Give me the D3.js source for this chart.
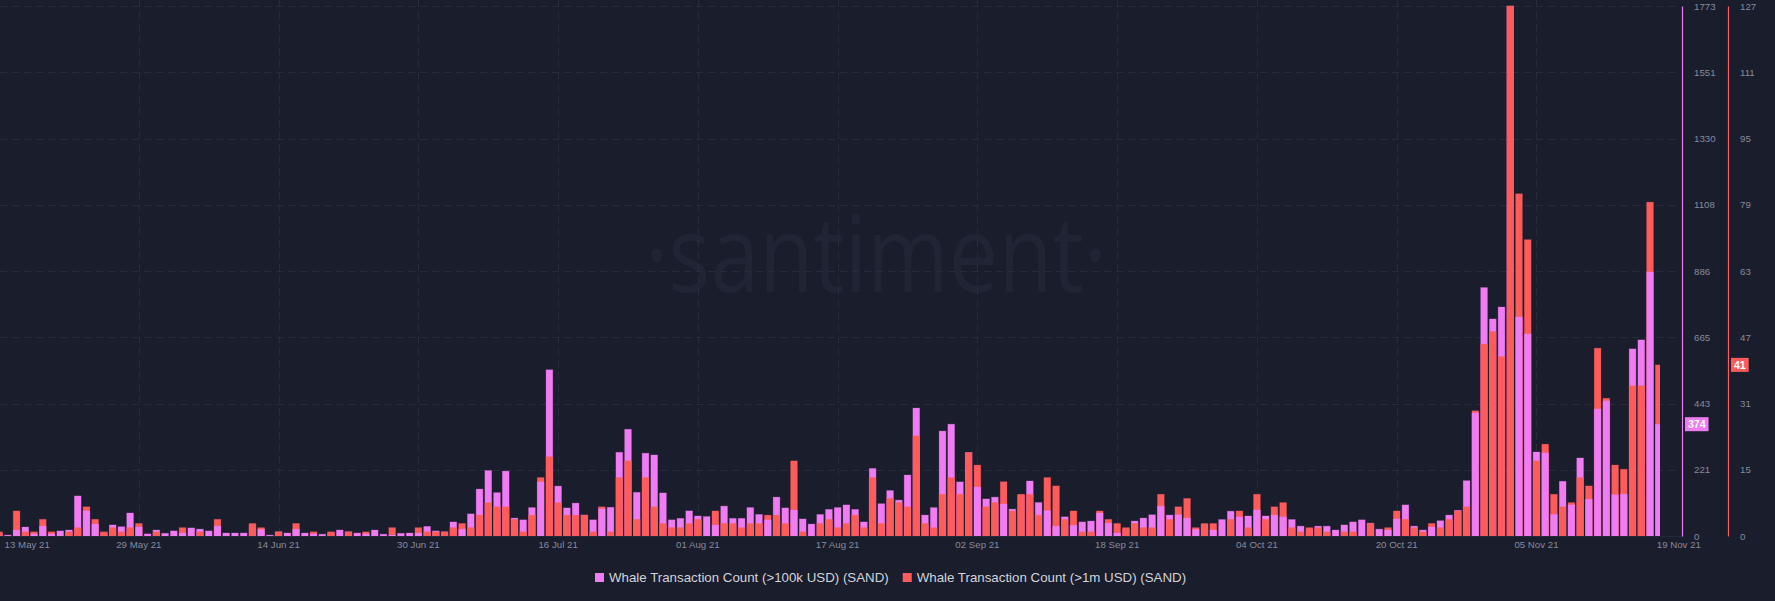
<!DOCTYPE html>
<html><head><meta charset="utf-8">
<script src="https://cdn.jsdelivr.net/npm/d3@7"></script>
<style>
html,body{margin:0;padding:0;background:#1a1d2b;}
svg{display:block;}
</style></head>
<body><svg id="c" width="1775" height="601"></svg>
<script>
// ---------- data ----------
const startDate = "2021-05-13";
const endDate = "2021-11-19";
const xTickDates = ["2021-05-13","2021-05-29","2021-06-14","2021-06-30","2021-07-16","2021-08-01","2021-08-17","2021-09-02","2021-09-18","2021-10-04","2021-10-20","2021-11-05","2021-11-19"];
const xTickLabels = ["13 May 21","29 May 21","14 Jun 21","30 Jun 21","16 Jul 21","01 Aug 21","17 Aug 21","02 Sep 21","18 Sep 21","04 Oct 21","20 Oct 21","05 Nov 21","19 Nov 21"];
const leftTickLabels = ["0","221","443","665","886","1108","1330","1551","1773"];
const rightTickLabels = ["0","15","31","47","63","79","95","111","127"];
const leftMax = 1773;
const rightMax = 127;
const seriesNames = ["Whale Transaction Count (>100k USD) (SAND)","Whale Transaction Count (>1m USD) (SAND)"];
// >100k USD (left axis), one value per day from 13 May 21
const pinkValues = [
 9,3,20,30,7,33,7,17,20,134, 84,40,10,37,31,77,30,7,20,9,
 17,10,27,23,17,33,10,10,10,37, 22,3,14,10,23,10,7,6,10,20,
 14,10,7,20,6,3,9,10,10,32, 17,14,47,23,74,157,219,145,217,60,
 54,95,181,556,167,94,110,70,54,91, 96,280,357,146,277,271,144,54,59,84,
 67,65,37,100,59,59,95,72,54,130, 94,87,57,40,72,89,95,104,89,47,
 226,108,152,120,204,428,70,95,351,374, 181,279,164,124,130,107,90,137,184,112,
 85,33,64,36,47,50,77,43,10,23, 50,60,71,100,70,71,60,22,37,20,
 55,83,64,67,87,67,70,64,55,33, 23,33,33,20,37,47,54,43,23,20,
 57,104,33,20,30,51,70,86,185,412, 831,726,766,1773,733,676,281,278,72,183,
 104,261,123,425,452,138,140,626,656,883, 374
];
// >1m USD (right axis)
const redValues = [
 1,0,6,1,1,4,1,0,1,2, 7,4,1,2,1,2,3,0,1,0,
 0,2,0,1,0,4,0,0,0,3, 2,0,1,0,3,0,1,0,1,0,
 1,0,1,0,0,2,0,0,2,1, 1,1,2,3,2,5,8,7,7,4,
 1,5,14,19,8,5,5,5,1,7, 1,14,18,4,14,7,3,2,2,3,
 4,0,6,3,3,2,3,3,5,5, 3,18,1,0,3,4,2,3,5,2,
 14,3,9,8,7,24,3,2,10,14, 10,20,17,7,8,13,6,10,10,5,
 14,12,4,6,1,1,6,4,3,2, 3,2,2,10,4,7,9,2,3,3,
 0,4,6,2,10,4,7,8,2,1, 2,2,1,0,1,1,0,3,0,2,
 6,4,2,1,3,2,4,6,7,30, 46,49,43,127,82,71,18,22,10,7,
 8,14,12,45,33,17,16,36,36,80, 41
];

// ---------- layout ----------
const W = 1775, H = 601;
const BG = "#1a1d2b";
const PINK = "#f07cf4";
const RED = "#ff5b5b";
const GRID = "#282b3b";
const TICK_TXT = "#868a9e";
const plotTop = 6, plotBottom = 536, plotRight = 1660, gridRight = 1676;
const leftAxisX = 1682, rightAxisX = 1728;

const fmt = d3.timeFormat("%Y-%m-%d");
const parse = d3.timeParse("%Y-%m-%d");
const days = d3.timeDay.range(parse(startDate), d3.timeDay.offset(parse(endDate), 1)).map(fmt);
const data = days.map((d, i) => ({date: d, pink: pinkValues[i], red: redValues[i]}));

const step = 8.735;
const x = d3.scaleBand().domain(days)
  .range([-0.9 - step / 2, -0.9 - step / 2 + step * days.length])
  .paddingInner(0.23).paddingOuter(0.115);
const yL = d3.scaleLinear().domain([0, leftMax]).range([plotBottom, plotTop]);
const yR = d3.scaleLinear().domain([0, rightMax]).range([plotBottom, plotTop]);

const svg = d3.select("#c");
svg.append("rect").attr("width", W).attr("height", H).attr("fill", BG);

// watermark
svg.append("text").attr("x", 876).attr("y", 292)
  .attr("text-anchor", "middle")
  .attr("font-family", "Open Sans, sans-serif").attr("font-size", 106)
  .attr("textLength", 462).attr("lengthAdjust", "spacingAndGlyphs")
  .attr("fill", "#212435").text("·santiment·");

// grid
const leftTicks = leftTickLabels.map((_, k) => leftMax * k / 8);
const rightTicks = rightTickLabels.map((_, k) => rightMax * k / 8);
const grid = svg.append("g");
grid.selectAll("line.h").data(leftTicks.slice(1)).join("line")
  .attr("x1", 0).attr("x2", gridRight)
  .attr("y1", d => Math.round(yL(d)) + 0.5).attr("y2", d => Math.round(yL(d)) + 0.5)
  .attr("stroke", GRID).attr("stroke-dasharray", "7,5");
grid.selectAll("line.v").data(xTickDates.slice(1, -1)).join("line")
  .attr("y1", 0).attr("y2", plotBottom)
  .attr("x1", d => Math.round(x(d) + x.bandwidth() / 2) + 0.5)
  .attr("x2", d => Math.round(x(d) + x.bandwidth() / 2) + 0.5)
  .attr("stroke", GRID).attr("stroke-dasharray", "7,5");

// bars
svg.append("clipPath").attr("id", "clip").append("rect")
  .attr("x", 0).attr("y", 0).attr("width", plotRight).attr("height", plotBottom);
const barsG = svg.append("g").attr("clip-path", "url(#clip)");
data.forEach(d => {
  const hp = plotBottom - yL(d.pink), hr = plotBottom - yR(d.red);
  const pinkBar = {v: d.pink, y: yL(d.pink), c: PINK};
  const redBar = {v: d.red, y: yR(d.red), c: RED};
  let order;
  if (Math.abs(hp - hr) < 1.5) order = [pinkBar, redBar];
  else order = hp > hr ? [pinkBar, redBar] : [redBar, pinkBar];
  order.forEach(b => {
    if (plotBottom - b.y <= 0) return;
    barsG.append("rect")
      .attr("x", x(d.date)).attr("width", x.bandwidth())
      .attr("y", b.y).attr("height", plotBottom - b.y)
      .attr("fill", b.c)
      .attr("stroke", b.c).attr("stroke-opacity", 0.35).attr("stroke-width", 0.8);
  });
});

// baseline
svg.append("line").attr("x1", 0).attr("x2", leftAxisX).attr("y1", plotBottom + 0.5).attr("y2", plotBottom + 0.5)
  .attr("stroke", "#252838");

// x axis
const xAxis = d3.axisBottom(x).tickValues(xTickDates)
  .tickFormat((d, i) => xTickLabels[i]).tickSize(0).tickPadding(5);
const gx = svg.append("g").attr("transform", `translate(0,${plotBottom})`).call(xAxis);
gx.select(".domain").remove();
gx.selectAll("text").attr("fill", TICK_TXT).attr("font-size", 9.7)
  .attr("font-family", "Liberation Sans, Arial, sans-serif");
gx.selectAll(".tick").filter((d, i) => i === 0).select("text")
  .attr("text-anchor", "start").attr("x", 5.5);
gx.selectAll(".tick").filter((d, i) => i === xTickDates.length - 1).select("text")
  .attr("text-anchor", "start").attr("x", -2);

// y axes
function styleAxis(g, color) {
  g.select(".domain").attr("stroke", color).attr("stroke-width", 1.2);
  g.selectAll(".tick line").remove();
  g.selectAll("text").attr("fill", TICK_TXT).attr("font-size", 9.7)
    .attr("font-family", "Liberation Sans, Arial, sans-serif");
}
const gL = svg.append("g").attr("transform", `translate(${leftAxisX},0)`)
  .call(d3.axisRight(yL).tickValues(leftTicks).tickFormat((d, i) => leftTickLabels[i]).tickSizeOuter(0).tickPadding(6));
styleAxis(gL, PINK);
const gR = svg.append("g").attr("transform", `translate(${rightAxisX},0)`)
  .call(d3.axisRight(yR).tickValues(rightTicks).tickFormat((d, i) => rightTickLabels[i]).tickSizeOuter(0).tickPadding(6));
styleAxis(gR, RED);

// last value badges
function badge(xPos, yPos, txt, color) {
  const g = svg.append("g");
  const t = g.append("text").attr("x", xPos + 3).attr("y", yPos).attr("dy", "0.35em")
    .attr("font-size", 10.5).attr("font-weight", "bold")
    .attr("font-family", "Liberation Sans, Arial, sans-serif")
    .attr("fill", "#ffffff").text(txt);
  const w = t.node().getComputedTextLength();
  g.insert("rect", "text").attr("x", xPos).attr("y", yPos - 7)
    .attr("width", w + 6).attr("height", 14).attr("fill", color);
}
const last = data[data.length - 1];
badge(leftAxisX + 3, yL(last.pink), String(last.pink), PINK);
badge(rightAxisX + 3, yR(last.red), String(last.red), RED);

// legend
const legend = svg.append("g").attr("font-family", "Liberation Sans, Arial, sans-serif").attr("font-size", 13.3);
const items = [{name: seriesNames[0], c: PINK}, {name: seriesNames[1], c: RED}];
let lx = 595;
items.forEach(it => {
  legend.append("rect").attr("x", lx).attr("y", 573).attr("width", 9).attr("height", 9).attr("fill", it.c);
  const t = legend.append("text").attr("x", lx + 14).attr("y", 577.5).attr("dy", "0.35em")
    .attr("fill", "#d2d4dc").text(it.name);
  lx += 14 + t.node().getComputedTextLength() + 14;
});
</script>
</body></html>
